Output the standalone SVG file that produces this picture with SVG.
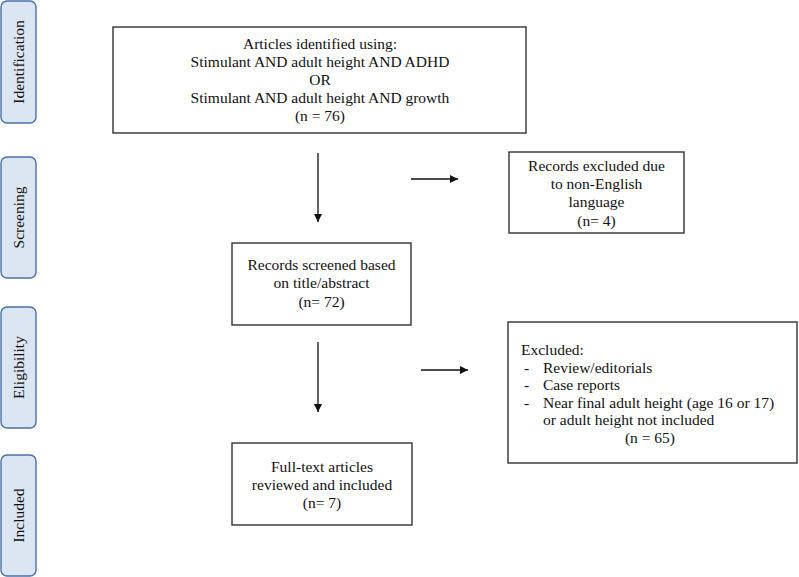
<svg xmlns="http://www.w3.org/2000/svg" width="799" height="577" viewBox="0 0 799 577">
<style>
  .t { font-family: "Liberation Serif", "Times New Roman", serif; font-size: 15.5px; fill: #111; }
  .c { text-anchor: middle; }
  .box { fill: #fff; stroke: #333; stroke-width: 1.4; }
  .side { fill: #dce6f2; stroke: #4a6fab; stroke-width: 1.4; }
  .ln { stroke: #111; stroke-width: 1.3; fill: none; }
</style>
<defs>
  <marker id="ah" markerWidth="10" markerHeight="10" refX="8" refY="4" orient="auto" markerUnits="userSpaceOnUse">
    <path d="M0,0 L8,4 L0,8 Z" fill="#111"/>
  </marker>
</defs>
<rect width="799" height="577" fill="#fff"/>

<g id="side-identification">
  <rect class="side" x="1" y="1" width="35" height="122" rx="6"/>
  <text class="t c" transform="translate(23.5,62) rotate(-90)">Identification</text>
</g>
<g id="side-screening">
  <rect class="side" x="1" y="157" width="35" height="121" rx="6"/>
  <text class="t c" transform="translate(23.5,217.5) rotate(-90)">Screening</text>
</g>
<g id="side-eligibility">
  <rect class="side" x="1" y="307" width="35" height="121" rx="6"/>
  <text class="t c" transform="translate(23.5,367.5) rotate(-90)">Eligibility</text>
</g>
<g id="side-included">
  <rect class="side" x="1" y="455" width="35" height="121" rx="6"/>
  <text class="t c" transform="translate(23.5,515.5) rotate(-90)">Included</text>
</g>

<g id="identified">
  <rect class="box" x="113" y="27" width="413" height="106"/>
  <text class="t c" x="320" y="49">Articles identified using:</text>
  <text class="t c" x="320" y="67">Stimulant AND adult height AND ADHD</text>
  <text class="t c" x="320" y="85">OR</text>
  <text class="t c" x="320" y="103">Stimulant AND adult height AND growth</text>
  <text class="t c" x="320" y="121">(n = 76)</text>
</g>

<g id="excluded-language">
  <rect class="box" x="509" y="152" width="175" height="81"/>
  <text class="t c" x="596.5" y="171">Records excluded due</text>
  <text class="t c" x="596.5" y="189">to non-English</text>
  <text class="t c" x="596.5" y="207">language</text>
  <text class="t c" x="596.5" y="226">(n= 4)</text>
</g>

<g id="screened">
  <rect class="box" x="232" y="243" width="179" height="82"/>
  <text class="t c" x="321.5" y="270">Records screened based</text>
  <text class="t c" x="321.5" y="288">on title/abstract</text>
  <text class="t c" x="321.5" y="307">(n= 72)</text>
</g>

<g id="excluded">
  <rect class="box" x="508" y="322" width="289" height="141"/>
  <text class="t" x="521" y="355">Excluded:</text>
  <text class="t" x="524" y="373">-</text>
  <text class="t" x="543" y="373">Review/editorials</text>
  <text class="t" x="524" y="390">-</text>
  <text class="t" x="543" y="390">Case reports</text>
  <text class="t" x="524" y="408">-</text>
  <text class="t" x="543" y="408">Near final adult height (age 16 or 17)</text>
  <text class="t" x="543" y="425">or adult height not included</text>
  <text class="t c" x="650" y="443">(n = 65)</text>
</g>

<g id="included">
  <rect class="box" x="232" y="443" width="180" height="82"/>
  <text class="t c" x="322" y="472">Full-text articles</text>
  <text class="t c" x="322" y="490">reviewed and included</text>
  <text class="t c" x="322" y="508">(n= 7)</text>
</g>

<g id="connectors">
  <line class="ln" x1="318" y1="153" x2="318" y2="222" marker-end="url(#ah)"/>
  <line class="ln" x1="411" y1="179" x2="458" y2="179" marker-end="url(#ah)"/>
  <line class="ln" x1="318" y1="342" x2="318" y2="412" marker-end="url(#ah)"/>
  <line class="ln" x1="421" y1="370" x2="468" y2="370" marker-end="url(#ah)"/>
</g>
</svg>
